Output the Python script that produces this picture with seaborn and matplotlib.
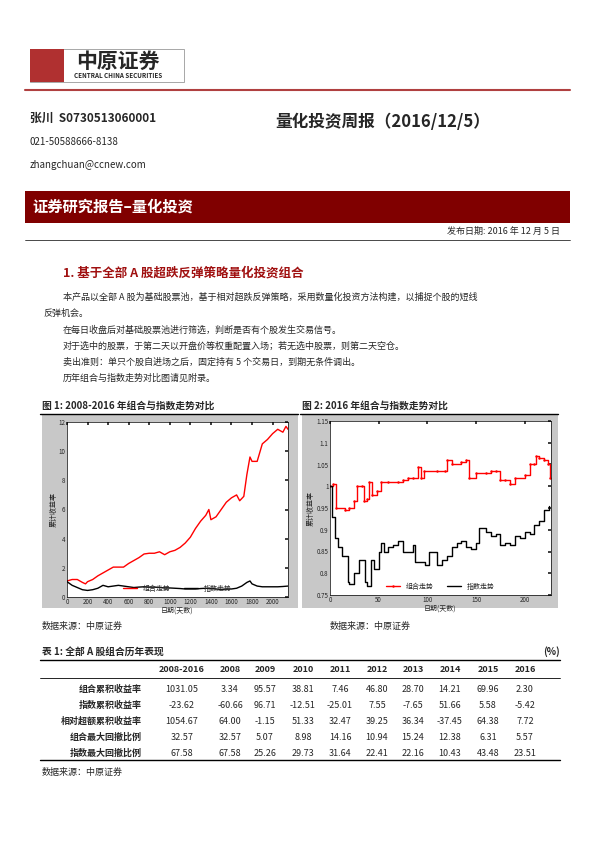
import matplotlib
matplotlib.use("Agg")
import matplotlib.pyplot as plt
import seaborn as sns
from matplotlib.patches import Rectangle

sns.set_theme(style="white")
plt.rcParams["font.family"] = ["Noto Sans CJK SC", "DejaVu Sans"]

W, H = 595, 842

# ── data ──────────────────────────────────────────────────────────────────────
x1_red = [0, 50, 100, 150, 180, 200, 250, 300, 350, 400, 450, 500, 550, 600, 650, 700, 750, 800,
          850, 900, 950, 1000, 1050, 1100, 1150, 1200, 1250, 1300, 1350, 1380, 1400, 1450, 1500,
          1550, 1600, 1650, 1680, 1720, 1750, 1780, 1800, 1850, 1900, 1950, 2000, 2050, 2100, 2130, 2150]
y1_red = [1.1, 1.2, 1.2, 1.0, 0.9, 1.05, 1.2, 1.45, 1.65, 1.85, 2.05, 2.05, 2.05, 2.3, 2.5, 2.7, 2.95,
          3.0, 3.0, 3.1, 2.9, 3.1, 3.2, 3.4, 3.7, 4.1, 4.7, 5.2, 5.6, 6.0, 5.3, 5.5, 6.0, 6.5, 6.8,
          7.0, 6.6, 6.9, 8.4, 9.6, 9.3, 9.3, 10.5, 10.8, 11.2, 11.5, 11.3, 11.7, 11.5]
x1_blk = [0, 50, 100, 150, 200, 250, 300, 350, 400, 450, 500, 550, 600, 650, 700, 750, 800, 850,
          900, 950, 1000, 1050, 1100, 1150, 1200, 1250, 1300, 1350, 1400, 1450, 1500, 1550, 1600,
          1650, 1700, 1750, 1780, 1800, 1850, 1900, 1950, 2000, 2050, 2100, 2150]
y1_blk = [1.05, 0.8, 0.65, 0.5, 0.45, 0.5, 0.6, 0.8, 0.7, 0.75, 0.8, 0.75, 0.7, 0.65, 0.68, 0.7,
          0.68, 0.68, 0.65, 0.62, 0.62, 0.6, 0.58, 0.55, 0.55, 0.55, 0.58, 0.6, 0.58, 0.55, 0.52,
          0.55, 0.55, 0.6, 0.75, 1.0, 1.1, 0.9, 0.75, 0.7, 0.7, 0.7, 0.7, 0.72, 0.75]

x2_red = [0, 3, 6, 15, 20, 25, 28, 33, 35, 38, 40, 43, 48, 52, 60, 70, 75, 80, 85, 90, 93, 97, 110,
          118, 120, 125, 135, 140, 143, 150, 160, 165, 170, 175, 180, 185, 190, 200, 205, 210, 212,
          215, 220, 224, 226]
y2_red = [1.0, 1.005, 0.95, 0.945, 0.95, 0.965, 1.0, 1.0, 0.965, 0.97, 1.01, 0.98, 0.99, 1.01, 1.01,
          1.01, 1.015, 1.02, 1.02, 1.045, 1.02, 1.035, 1.035, 1.035, 1.06, 1.05, 1.055, 1.06, 1.02,
          1.03, 1.03, 1.035, 1.035, 1.015, 1.015, 1.005, 1.02, 1.025, 1.05, 1.05, 1.07, 1.065, 1.06,
          1.05, 1.02]
x2_blk = [0, 2, 5, 8, 12, 15, 18, 20, 25, 30, 33, 36, 38, 42, 45, 50, 52, 55, 60, 65, 70, 75, 80, 85,
          87, 92, 98, 102, 107, 110, 115, 120, 125, 130, 135, 140, 145, 150, 153, 160, 165, 170, 175,
          180, 185, 190, 195, 200, 205, 210, 215, 220, 225]
y2_blk = [1.0, 0.93, 0.88, 0.86, 0.84, 0.84, 0.78, 0.775, 0.8, 0.83, 0.83, 0.78, 0.77, 0.83, 0.81,
          0.85, 0.87, 0.85, 0.86, 0.865, 0.875, 0.85, 0.85, 0.865, 0.825, 0.825, 0.82, 0.85, 0.85,
          0.82, 0.83, 0.84, 0.86, 0.87, 0.875, 0.86, 0.855, 0.87, 0.905, 0.895, 0.885, 0.89, 0.865,
          0.87, 0.865, 0.885, 0.88, 0.895, 0.89, 0.91, 0.92, 0.945, 0.955]

col_labels = ["2008-2016", "2008", "2009", "2010", "2011", "2012", "2013", "2014", "2015", "2016"]
row_labels = ["组合累积收益率", "指数累积收益率", "相对超额累积收益率", "组合最大回撤比例", "指数最大回撤比例"]
table_vals = [
    ["1031.05", "3.34", "95.57", "38.81", "7.46", "46.80", "28.70", "14.21", "69.96", "2.30"],
    ["-23.62", "-60.66", "96.71", "-12.51", "-25.01", "7.55", "-7.65", "51.66", "5.58", "-5.42"],
    ["1054.67", "64.00", "-1.15", "51.33", "32.47", "39.25", "36.34", "-37.45", "64.38", "7.72"],
    ["32.57", "32.57", "5.07", "8.98", "14.16", "10.94", "15.24", "12.38", "6.31", "5.57"],
    ["67.58", "67.58", "25.26", "29.73", "31.64", "22.41", "22.16", "10.43", "43.48", "23.51"],
]

fig = plt.figure(figsize=(W / 100, H / 100), dpi=100)
fig.patch.set_facecolor("white")

def fx(px): return px / W
def fy(py): return 1 - py / H
def txt(x, y, s, **kw):
    kw.setdefault("va", "center")
    kw.setdefault("fontsize", 7)
    fig.text(fx(x), fy(y), s, **kw)
def hline(y, x0, x1, c="black", lw=0.8):
    fig.add_artist(plt.Line2D([fx(x0), fx(x1)], [fy(y), fy(y)], color=c, lw=lw))
def rect(x, y, w, h, z=-1, **kw):
    fig.add_artist(Rectangle((fx(x), fy(y + h)), w / W, h / H, transform=fig.transFigure,
                             zorder=z, **kw))

# ── header ────────────────────────────────────────────────────────────────────
rect(30, 49, 154, 33, facecolor="white", edgecolor="#999999", lw=0.6)
rect(30, 49, 34, 33, z=0, facecolor="#b03030", edgecolor="none")
txt(118, 61, "中原证券", fontsize=15, ha="center", fontweight="bold")
txt(118, 76, "CENTRAL CHINA SECURITIES", fontsize=4.5, ha="center", fontweight="bold")
hline(90, 25, 570, c="#b04040", lw=1.5)
txt(30, 118, "张川  S0730513060001", fontsize=8.5, fontweight="bold")
txt(30, 142, "021-50588666-8138", fontsize=7)
txt(30, 165, "zhangchuan@ccnew.com", fontsize=7)
txt(275, 122, "量化投资周报（2016/12/5）", fontsize=12, fontweight="bold")
rect(25, 191, 545, 32, facecolor="#800000", edgecolor="none")
txt(32, 207, "证券研究报告–量化投资", fontsize=11, color="white", fontweight="bold")
txt(560, 231, "发布日期: 2016 年 12 月 5 日", fontsize=6.5, ha="right")
hline(240, 25, 570, lw=0.5)

txt(63, 273, "1. 基于全部 A 股超跌反弹策略量化投资组合", fontsize=9, color="#a01010", fontweight="bold")
body = [
    (63, 297, "本产品以全部 A 股为基础股票池，基于相对超跌反弹策略，采用数量化投资方法构建，以捕捉个股的短线"),
    (43, 313, "反弹机会。"),
    (63, 330, "在每日收盘后对基础股票池进行筛选，判断是否有个股发生交易信号。"),
    (63, 346, "对于选中的股票，于第二天以开盘价等权重配置入场；若无选中股票，则第二天空仓。"),
    (63, 362, "卖出准则：单只个股自进场之后，固定持有 5 个交易日，到期无条件调出。"),
    (63, 378, "历年组合与指数走势对比图请见附录。"),
]
for x, y, s in body:
    txt(x, y, s, fontsize=6.5)

# ── charts ────────────────────────────────────────────────────────────────────
txt(42, 406, "图 1: 2008-2016 年组合与指数走势对比", fontsize=7, fontweight="bold")
txt(302, 406, "图 2: 2016 年组合与指数走势对比", fontsize=7, fontweight="bold")
hline(414, 40, 298, lw=1)
hline(414, 300, 558, lw=1)
rect(42, 415, 256, 193, facecolor="#c8c8c8", edgecolor="none")
rect(302, 415, 256, 193, facecolor="#c8c8c8", edgecolor="none")

ax1 = fig.add_axes([fx(67), fy(597), (288 - 67) / W, (597 - 422) / H])
ax1.plot(x1_red, y1_red, color="red", lw=1, label="组合走势")
ax1.plot(x1_blk, y1_blk, color="black", lw=1, label="指数走势")
ax1.set_xlim(0, 2150); ax1.set_ylim(0, 12)
ax1.set_xticks(range(0, 2200, 200)); ax1.set_yticks(range(0, 13, 2))
ax1.set_xlabel("日期(天数)", fontsize=5, labelpad=0)
ax1.set_ylabel("累计收益率", fontsize=5, labelpad=1)
ax1.legend(loc="lower center", ncol=2, fontsize=5, frameon=False, borderpad=0.1)

ax2 = fig.add_axes([fx(330), fy(595), (551 - 330) / W, (595 - 421) / H])
ax2.plot(x2_red, y2_red, color="red", lw=1, drawstyle="steps-post", marker=".", ms=1.5, label="组合走势")
ax2.plot(x2_blk, y2_blk, color="black", lw=1, drawstyle="steps-post", label="指数走势")
ax2.set_xlim(0, 227); ax2.set_ylim(0.75, 1.15)
ax2.set_xticks([0, 50, 100, 150, 200])
ax2.set_yticks([0.75, 0.8, 0.85, 0.9, 0.95, 1, 1.05, 1.1, 1.15])
ax2.set_yticklabels(["0.75", "0.8", "0.85", "0.9", "0.95", "1", "1.05", "1.1", "1.15"])
ax2.set_xlabel("日期(天数)", fontsize=5, labelpad=0)
ax2.set_ylabel("累计收益率", fontsize=5, labelpad=1)
ax2.legend(loc="lower center", ncol=2, fontsize=5, frameon=False, borderpad=0.1)

for ax in (ax1, ax2):
    ax.set_facecolor("white")
    ax.tick_params(labelsize=4.5, length=2, pad=1, direction="in", top=True, right=True)
    for sp in ax.spines.values():
        sp.set_color("black"); sp.set_linewidth(0.5)

txt(42, 626, "数据来源：中原证券", fontsize=6.5)
txt(330, 626, "数据来源：中原证券", fontsize=6.5)

# ── table ─────────────────────────────────────────────────────────────────────
txt(42, 652, "表 1: 全部 A 股组合历年表现", fontsize=7, fontweight="bold")
txt(560, 652, "(%)", fontsize=7, fontweight="bold", ha="right")
hline(660, 40, 560, lw=1)
col_x = [182, 230, 265, 303, 340, 377, 413, 450, 488, 525]
for cx, c in zip(col_x, col_labels):
    txt(cx, 670, c, fontsize=6.5, ha="center", fontweight="bold")
hline(678, 40, 560, lw=0.6)
for i, (lab, vals) in enumerate(zip(row_labels, table_vals)):
    y = 689 + i * 16
    txt(142, y, lab, fontsize=6.5, ha="right", fontweight="bold")
    for cx, v in zip(col_x, vals):
        txt(cx, y, v, fontsize=6.5, ha="center")
hline(760, 40, 560, lw=1)
txt(42, 772, "数据来源：中原证券", fontsize=6.5)

fig.savefig("out.png", dpi=100)
